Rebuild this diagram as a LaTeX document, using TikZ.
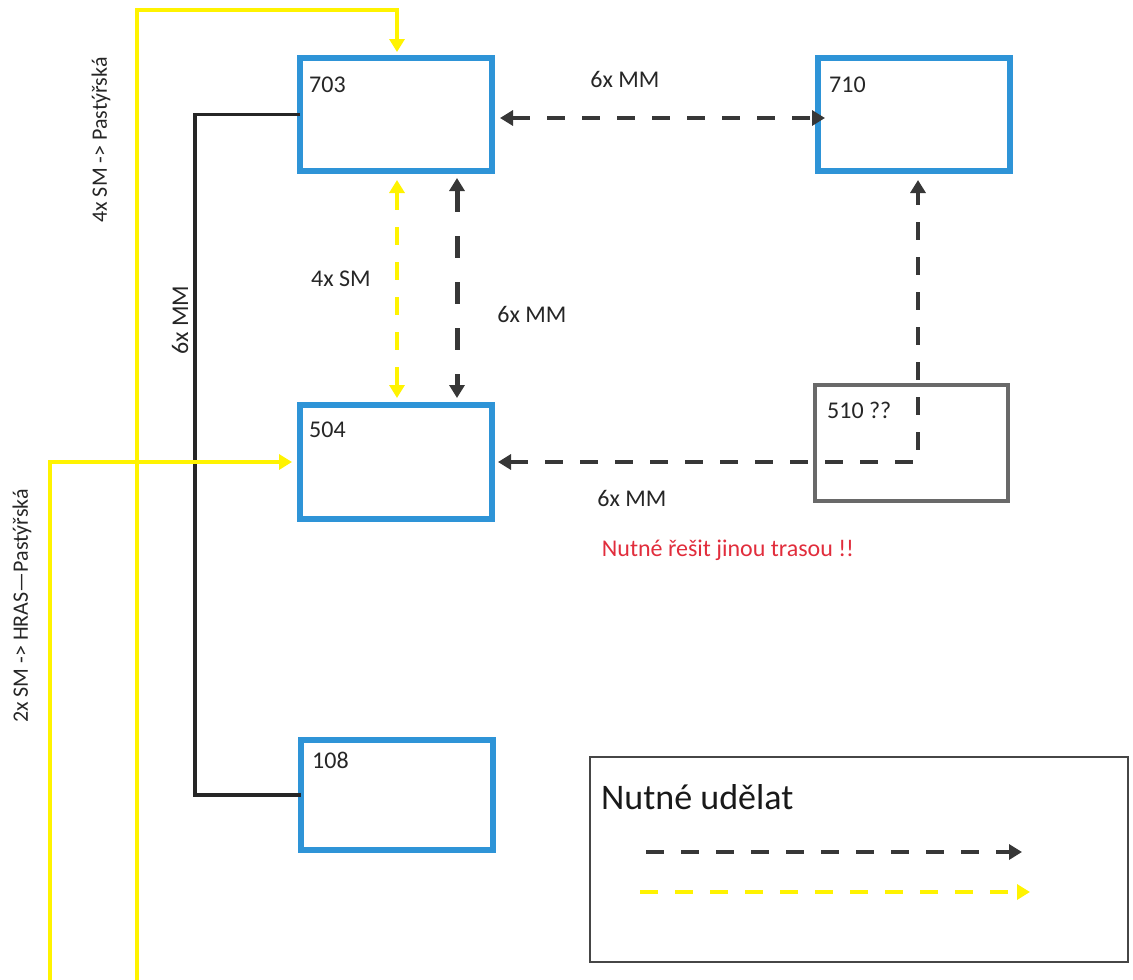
\documentclass[tikz,border=0pt]{standalone}
\usepackage{fontspec}
\setmainfont{Carlito}
\usetikzlibrary{arrows.meta,calc}
\definecolor{boxblue}{RGB}{46,148,215}
\definecolor{ylw}{RGB}{255,243,0}
\definecolor{dgray}{RGB}{55,55,55}
\definecolor{boxgray}{RGB}{105,105,105}
\definecolor{leggray}{RGB}{70,70,70}
\definecolor{warnred}{RGB}{225,45,60}
\begin{document}
\begin{tikzpicture}[x=1pt,y=-1pt,
  room/.style={draw=boxblue,line width=6pt,minimum width=192pt,minimum height=113pt,inner sep=0pt,outer sep=0pt},
  lbl/.style={font=\fontsize{24}{28}\selectfont,text=black!85,inner sep=0pt},
  rlbl/.style={font=\fontsize{22}{26}\selectfont,text=black!85,inner sep=0pt,rotate=90},
  mmdash/.style={draw=dgray,line width=4.5pt,dash pattern=on 18pt off 17pt},
  mmvdash/.style={draw=dgray,line width=5pt,dash pattern=on 22pt off 24pt},
  smdash/.style={draw=ylw,line width=4.5pt,dash pattern=on 18pt off 17pt},
  ysolid/.style={draw=ylw,line width=4.5pt},
  bsolid/.style={draw=black!85,line width=3.5pt},
  endarr/.style={-{Triangle[length=13pt,width=15pt]}},
  botharr/.style={{Triangle[length=13pt,width=15pt]}-{Triangle[length=13pt,width=15pt]}}
]
\useasboundingbox (0,0) rectangle (1133,980);

% rooms
\node[room] (b703) at (396,114.5) {};
\node[room] (b710) at (914,114.5) {};
\node[room,minimum height=114pt] (b504) at (396,462) {};
\node[room,minimum height=110pt] (b108) at (396.5,795) {};
\node[draw=boxgray,line width=4.5pt,minimum width=193pt,minimum height=116pt,inner sep=0pt,outer sep=0pt] (b510) at (911.5,443) {};

\node[lbl,anchor=base west] (t703) at (309,92) {703};
\node[lbl,anchor=base west] (t710) at (829,92) {710};
\node[lbl,anchor=base west] (t504) at (309,437) {504};
\node[lbl,anchor=base west] (t108) at (312,768) {108};
\node[lbl,anchor=base west] (t510) at (827,418) {510 ??};

% labels
\node[lbl] (l1) at (625,79) {6x MM};
\node[lbl] (l2) at (341,279) {4x SM};
\node[lbl] (l3) at (532,314) {6x MM};
\node[lbl] (l4) at (632,498) {6x MM};
\node[lbl,text=warnred] (l5) at (728,550) {Nutné řešit jinou trasou !!};
\node[rlbl,font=\fontsize{24}{28}\selectfont] (l6) at (180,320) {6x MM};
\node[rlbl] (l7) at (101,140) {4x SM -> Pastýřská};
\node[rlbl] (l8) at (22,606) {2x SM -> HRAS—Pastýřská};

% solid black link 703 - 108
\draw[bsolid] (b703.west) -- ++(-105,0) |- (b108.west);

% yellow solid lines
\coordinate (ya0) at (137,985);
\coordinate (ya1) at (397,10);
\draw[ysolid,endarr,shorten >=6pt] (ya0) |- (ya1) -- ([xshift=1pt]b703.north);
\coordinate (yb0) at (50,985);
\draw[ysolid,endarr,shorten >=8pt] (yb0) |- (b504.west);

% dashed connectors
\draw[mmdash,botharr,shorten <=8pt,shorten >=-7pt] ([yshift=-3.5pt]b703.east) -- ([yshift=-3.5pt]b710.west);
\draw[smdash,botharr,shorten <=9pt,shorten >=7pt] ([xshift=1pt]b703.south) -- ([xshift=1pt]b504.north);
\draw[mmvdash,botharr,shorten <=7pt,shorten >=7pt] ([xshift=61pt]b703.south) -- ([xshift=61pt]b504.north);
\coordinate (c510) at (918,462);
\draw[mmdash,botharr,shorten <=6pt,shorten >=9pt] (b504.east) -- (c510) -- (c510 |- b710.south);

% legend
\node[draw=leggray,line width=1.5pt,minimum width=538pt,minimum height=205pt,inner sep=0pt,outer sep=0pt] (leg) at (859,859.5) {};
\node[anchor=west,inner sep=0pt,font=\fontsize{36}{42}\selectfont,text=black!90] (legt) at (601,797) {Nutné udělat};
\coordinate (lbs) at (646,852);
\coordinate (lbe) at (1022,852);
\coordinate (lys) at (640,892);
\coordinate (lye) at (1030,892);
\draw[mmdash,endarr] (lbs) -- (lbe);
\draw[smdash,endarr] (lys) -- (lye);
\end{tikzpicture}
\end{document}
